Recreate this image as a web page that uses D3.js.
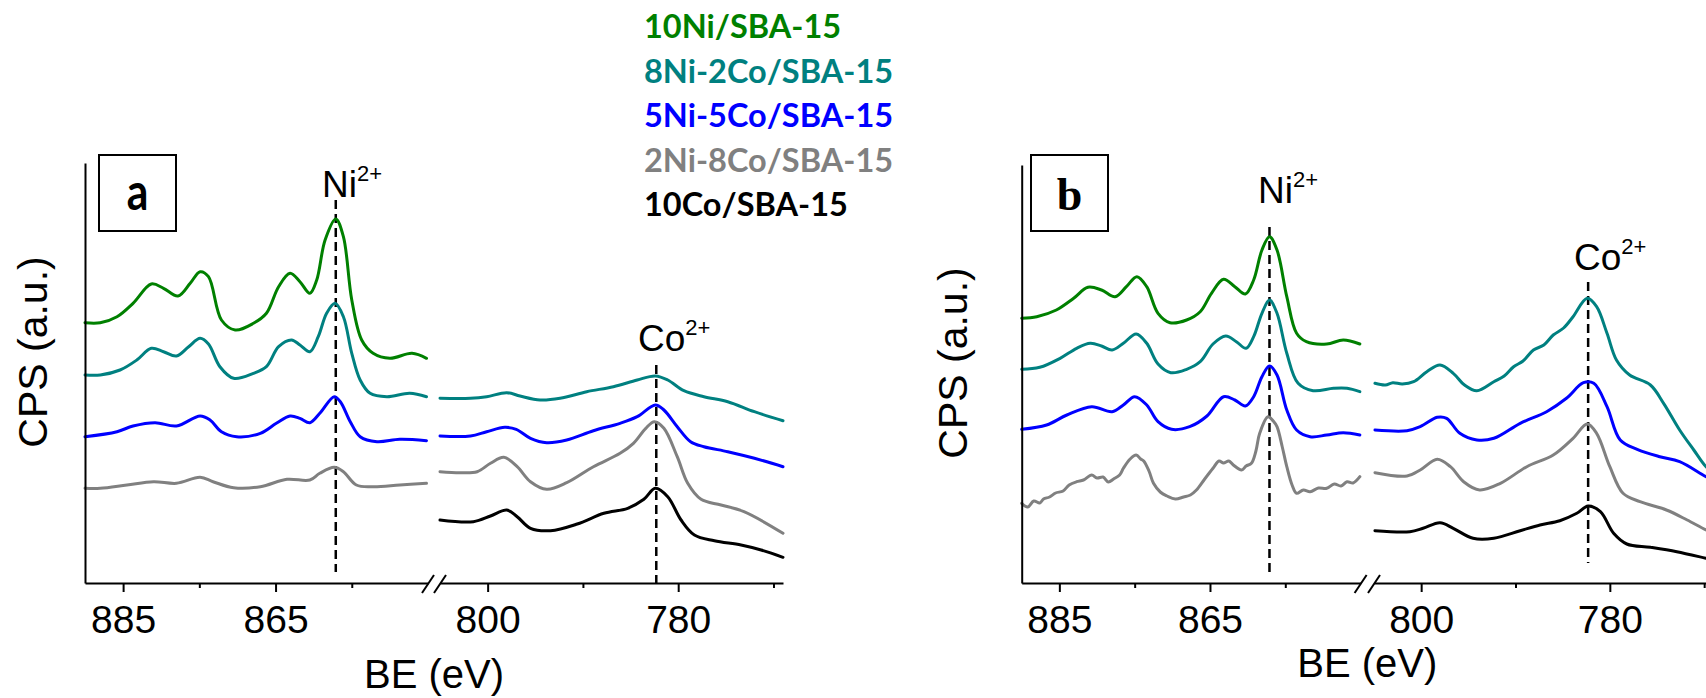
<!DOCTYPE html>
<html><head><meta charset="utf-8">
<script src="https://cdn.jsdelivr.net/npm/d3@7/dist/d3.min.js"></script>
<style>body{margin:0;background:#fff}svg{display:block}</style>
</head><body>
<svg id="chart" width="1706" height="698"></svg>
<script>
// ---------------- DATA ----------------
const seriesNames = ["10Ni/SBA-15", "8Ni-2Co/SBA-15", "5Ni-5Co/SBA-15", "2Ni-8Co/SBA-15", "10Co/SBA-15"];
const panelNames = ["a", "b"];
const niDomain = [890, 845];
const coDomain = [805, 769];
const niMajorTicks = [885, 865];
const niMinorTicks = [875, 855];
const coMajorTicks = [800, 780];
const coMinorTicks = [790, 770];
const niPeakBE = 857.1;
const coPeakBE = 782.3;
const peakNames = ["Ni", "Co"];
const peakCharge = "2+";
const yLabel = "CPS (a.u.)";
const xLabel = "BE (eV)";

// Panel a, Ni 2p region  [BE, intensity a.u.]
const aNi_10Ni = [[890,260.3],[888,260.3],[885.8,266.3],[883.7,279.7],[881.3,299],[879.7,294.7],[877.8,287],[876.2,299.7],[874.9,311.3],[873.8,306.3],[872.1,263],[870.3,253],[867.9,259.7],[866.2,269.7],[864.6,296.3],[863.1,309.7],[861.8,301.3],[860.5,289.7],[859.6,303],[858.5,343],[857.1,364],[856.1,346.3],[855,283],[853.7,243],[852.2,229.7],[850,224.7],[847.1,229.7],[845.2,224.7]];
const aNi_8Ni2Co = [[890,208],[888,208],[885.4,213],[883.2,223],[881.3,234.7],[879.7,231.3],[878,227],[876.4,236.3],[874.9,244.7],[873.8,239],[872.3,216.3],[870.5,204.7],[867.9,209.7],[866.2,216.3],[864.6,236.3],[862.9,243],[861.8,238],[860.5,231.3],[859.4,246.3],[858.3,269.7],[857.2,279.7],[856.1,266.3],[855,229.7],[853.9,203],[852.6,189.7],[850.4,186.3],[847.4,189.7],[845.2,186.3]];
const aNi_5Ni5Co = [[890,146.3],[885.8,151.3],[883.7,157],[880.8,160.3],[878,157],[874.9,167],[873.6,163],[872.1,151.3],[870.1,146.3],[867,149.7],[864.9,159.7],[863.1,167],[861.8,164.7],[860.5,160.3],[859.2,169.7],[857.3,186.3],[856.5,181.3],[855.2,161.3],[853.9,146.3],[851.7,141.3],[848.7,143.7],[845.2,142.3]];
const aNi_2Ni8Co = [[890,94.7],[888,94.7],[884.5,98],[881,101.3],[878,99.7],[874.9,105.7],[873.2,101.3],[870.5,95.3],[867,96.3],[863.5,103.7],[860.5,103],[859.2,109.7],[857.3,115.7],[856.1,111.3],[854.4,98],[852.2,96.3],[848.7,98],[845.2,99.7]];

// Panel a, Co 2p region
const aCo_8Ni2Co = [[805,184.7],[801.8,184.7],[800.1,186.3],[798,190.3],[796.6,187],[794.5,183],[792.4,184.7],[789.6,191.3],[786.8,196.3],[784.3,203],[782.4,207],[781.1,203],[779.4,192.3],[777.3,186.3],[774.8,181.3],[772,171.3],[769,162.3]];
const aCo_5Ni5Co = [[805,147],[801.8,147],[800.1,151.3],[798.2,155.7],[797,153.7],[795.5,144.7],[793.8,140.3],[791.7,143],[788.9,152.3],[786.1,159.7],[784.3,166.3],[782.4,178],[781.5,173],[780.1,156.3],[778.7,141.3],[777.3,136.3],[774.8,131.3],[772,124.7],[769,116.3]];
const aCo_2Ni8Co = [[805,111.3],[802.9,110.3],[801.1,111.3],[799.7,119.7],[798.3,125.7],[796.9,116.3],[795.5,101.3],[793.8,93.7],[791.7,100.3],[788.9,116.3],[786.1,129.7],[784.7,139.7],[783.4,154.7],[782.5,161.3],[781.5,154.7],[780.1,126.3],[779,99.7],[777.6,83.7],[775.5,78],[773.1,71.3],[769,49.7]];
const aCo_10Co = [[805,63],[801.5,61.3],[799.7,67],[798,73],[796.9,66.3],[795.5,54.7],[793.4,52.3],[790.6,59],[787.8,69.7],[785.3,74.7],[783.6,83.7],[782.4,94.7],[781.1,86.3],[779.7,63],[778.3,48],[776.2,42.3],[773.4,38],[771.3,33],[769,25.7]];

// Panel b, Ni 2p region
const bNi_10Ni = [[890,264.7],[888,266.3],[885.4,273],[883.1,284.7],[881.2,295.7],[879.4,293],[877.6,286.3],[876.1,296.3],[874.7,306.3],[873.4,296.3],[871.9,269.7],[870.3,260.3],[868.1,263],[866.3,271.3],[864.8,289.7],[863.2,303.7],[861.7,296.3],[860.3,289],[859.2,303],[858.1,333],[857.1,346.3],[856.1,333],[854.8,286.3],[853.5,249.7],[852.2,241.3],[849.5,239],[847.3,243],[845.1,239]];
const bNi_8Ni2Co = [[890,213.7],[887.6,215.7],[884.9,224.7],[882.7,234.7],[880.9,239.7],[879.4,237],[878,233],[876.5,239.7],[874.8,249],[873.4,239.7],[871.9,219],[870.2,210.3],[868.1,213.7],[866.3,221.3],[864.6,239],[862.9,247],[861.5,241.3],[860.2,234.7],[859.2,246.3],[858.1,269.7],[857.1,283],[856.1,269.7],[854.8,229.7],[853.3,199.7],[851.3,192.3],[848.6,194.7],[846.8,194.7],[845.1,191.3]];
const bNi_5Ni5Co = [[890,153.7],[886.7,158],[884,168],[880.7,176.3],[878,171.3],[876.5,178],[875,186.3],[873.4,178],[871.9,161.3],[870.1,153.7],[867.7,156.3],[865.4,167],[863.2,186.3],[861.7,183],[860.3,177],[859.2,186.3],[858.1,206.3],[857.1,217],[856.1,208],[854.8,173],[853.5,153],[851.7,146.3],[849.5,148],[847.3,150.3],[845.1,148]];
const bNi_2Ni8Co = [[890,79.7],[889.2,76],[888.4,82],[887.6,80],[887.1,84],[886.3,86],[885.5,90],[884.5,92],[883.7,98],[882.7,101.3],[881.8,103],[880.7,108],[880,105],[879.2,106],[878.5,101],[877.8,104],[877,108],[876.5,114.7],[875.6,124],[874.8,128],[874.2,124],[873.8,122],[873.1,112],[872.5,99.7],[871.6,91],[870.7,87],[869.6,84],[868.5,86],[867.6,88],[866.8,93],[865.7,104],[864.6,114.7],[863.8,122],[863.2,120],[862.5,122],[861.9,118],[860.8,113],[860.2,117],[859.5,119.7],[858.9,132],[858.4,149.7],[857.3,166.3],[856.6,162],[856.1,156.3],[855.4,136],[854.8,116.3],[854.1,98],[853.5,89.7],[852.6,93],[851.7,91.3],[850.6,95],[849.5,94.7],[848.5,99],[847.6,97],[846.8,101.3],[846,100],[845.1,106.3]];

// Panel b, Co 2p region
const bCo_8Ni2Co = [[804.9,199.7],[803.8,198],[803,200.3],[802,199],[800.8,201.3],[799.4,211.3],[798,218],[796.6,209.7],[795.4,198],[794.1,192.3],[792.3,201.3],[791.2,207],[790.2,216.3],[789.2,222],[788.1,233],[787,238],[786,248],[784.9,255],[783.9,266.3],[782.4,284.7],[781.4,276.3],[780.3,249.7],[779.3,223],[777.9,208],[775.7,198],[774.3,179.7],[772.6,153],[771.1,133],[769.8,116.3],[769,111]];
const bCo_5Ni5Co = [[804.9,153],[801.5,152.3],[800.1,156.3],[798.3,165.7],[797.3,164.7],[795.9,149.7],[794.1,143],[792.3,144.7],[789.5,159.7],[786.7,171.3],[784.6,184.7],[782.8,200.3],[781.7,199.7],[780.3,176.3],[778.9,143],[777.1,133.7],[774.7,126.3],[772.6,121.3],[769.8,106.3],[769,103]];
const bCo_2Ni8Co = [[804.9,110.3],[801.5,107],[800.1,113],[798.3,123.7],[796.9,116.3],[795.5,101.3],[793.8,93],[791.6,99.7],[788.8,116.3],[786,128],[783.9,144.7],[782.4,159],[781.4,149.7],[780,116.3],[778.6,89.7],[776.8,81.3],[774,73],[771.8,63],[769.8,53],[769,50]];
const bCo_10Co = [[804.9,52.3],[801.2,51.3],[799.8,54.7],[798,60.3],[796.6,54.7],[794.5,44.7],[792.3,44.7],[789.5,52.3],[787.4,58],[785.3,62.3],[783.5,69.7],[782.3,77],[781,71.3],[779.6,49.7],[778.2,39],[775.7,35.7],[772.9,31.3],[769.8,24.7],[769,23]];

// ---------------- STYLE / LAYOUT ----------------
const colors = ["#008000", "#008080", "#0000ff", "#808080", "#000000"];
const panels = [
  { name: panelNames[0], x0: 85, xBL: 428, xBR: 440, x1: 783, yTop: 420,
    ni: [aNi_10Ni, aNi_8Ni2Co, aNi_5Ni5Co, aNi_2Ni8Co, null],
    co: [null, aCo_8Ni2Co, aCo_5Ni5Co, aCo_2Ni8Co, aCo_10Co],
    box: [99, 155, 77, 76], boxFont: "bold 52px Lato, 'Open Sans', sans-serif", boxScaleX: 0.82,
    niLab: [322, 197], coLab: [638, 350.5], niDash: [200, 572], coDash: [365, 583],
    yLab: [47, 352], xLab: 688 },
  { name: panelNames[1], x0: 1021.7, xBL: 1360.6, xBR: 1374, x1: 1713.6, yTop: 418,
    ni: [bNi_10Ni, bNi_8Ni2Co, bNi_5Ni5Co, bNi_2Ni8Co, null],
    co: [null, bCo_8Ni2Co, bCo_5Ni5Co, bCo_2Ni8Co, bCo_10Co],
    box: [1031, 155, 77, 76], boxFont: "bold 46px 'Liberation Serif', 'Times New Roman', serif", boxScaleX: 1,
    niLab: [1258, 203], coLab: [1574, 270], niDash: [227, 572], coDash: [282, 563],
    yLab: [967, 363], xLab: 677 }
];

const svg = d3.select("#chart");
const axisY = 583;
const y = d3.scaleLinear().domain([0, 420]).range([axisY, 163]);
const sansFont = "'Liberation Sans', Arial, sans-serif";

panels.forEach(p => {
  const g = svg.append("g");
  const xNi = d3.scaleLinear().domain(niDomain).range([p.x0, p.xBL]);
  const xCo = d3.scaleLinear().domain(coDomain).range([p.xBR, p.x1]);

  // dashed peak markers (behind curves)
  g.append("line").attr("x1", xNi(niPeakBE)).attr("x2", xNi(niPeakBE))
    .attr("y1", p.niDash[0]).attr("y2", p.niDash[1])
    .attr("stroke", "#000").attr("stroke-width", 2.5).attr("stroke-dasharray", "9,5");
  g.append("line").attr("x1", xCo(coPeakBE)).attr("x2", xCo(coPeakBE))
    .attr("y1", p.coDash[0]).attr("y2", p.coDash[1])
    .attr("stroke", "#000").attr("stroke-width", 2.5).attr("stroke-dasharray", "9,5");

  // curves
  [[p.ni, xNi], [p.co, xCo]].forEach(([list, xs]) => {
    list.forEach((d, i) => {
      if (!d) return;
      const line = d3.line().x(v => xs(v[0])).y(v => y(v[1])).curve(d3.curveCatmullRom.alpha(0.5));
      g.append("path").datum(d).attr("d", line)
        .attr("fill", "none").attr("stroke", colors[i]).attr("stroke-width", 3)
        .attr("stroke-linejoin", "round").attr("stroke-linecap", "round");
    });
  });

  // x axes (major + minor)
  const mk = (scale, major, minor) => {
    const ga = g.append("g").attr("transform", `translate(0,${axisY})`)
      .call(d3.axisBottom(scale).tickValues(major).tickSize(9).tickSizeOuter(0).tickFormat(d3.format("d")));
    ga.select(".domain").attr("stroke-width", 2);
    ga.selectAll(".tick line").attr("stroke-width", 2);
    ga.selectAll(".tick text").attr("y", 50).attr("dy", 0)
      .style("font", `39px ${sansFont}`).attr("fill", "#000");
    const gm = g.append("g").attr("transform", `translate(0,${axisY})`)
      .call(d3.axisBottom(scale).tickValues(minor).tickSize(5).tickSizeOuter(0).tickFormat(""));
    gm.select(".domain").remove();
    gm.selectAll(".tick line").attr("stroke-width", 2);
  };
  mk(xNi, niMajorTicks, niMinorTicks);
  mk(xCo, coMajorTicks, coMinorTicks);

  // axis break marks
  [p.xBL, p.xBR].forEach(cx => {
    g.append("line").attr("x1", cx - 6).attr("y1", axisY + 10).attr("x2", cx + 6).attr("y2", axisY - 8)
      .attr("stroke", "#000").attr("stroke-width", 2);
  });

  // y axis (no ticks)
  const gy = g.append("g").attr("transform", `translate(${p.x0},0)`)
    .call(d3.axisLeft(d3.scaleLinear().domain([0, p.yTop]).range([axisY, y(p.yTop)])).tickValues([]).tickSizeOuter(0));
  gy.select(".domain").attr("stroke-width", 2);

  // labels
  g.append("text").attr("transform", `translate(${p.yLab[0]},${p.yLab[1]}) rotate(-90)`)
    .attr("text-anchor", "middle").style("font", `41px ${sansFont}`).text(yLabel);
  g.append("text").attr("x", (p.xBL + p.xBR) / 2)
    .attr("y", p.xLab).attr("text-anchor", "middle").style("font", `40px ${sansFont}`).text(xLabel);

  // panel letter box
  g.append("rect").attr("x", p.box[0]).attr("y", p.box[1]).attr("width", p.box[2]).attr("height", p.box[3])
    .attr("fill", "none").attr("stroke", "#000").attr("stroke-width", 2);
  g.append("text").attr("transform", `translate(${p.box[0] + p.box[2] / 2},210) scale(${p.boxScaleX},1)`)
    .attr("text-anchor", "middle").style("font", p.boxFont).text(p.name);

  // peak labels with superscripts
  [[p.niLab, peakNames[0]], [p.coLab, peakNames[1]]].forEach(([pos, nm]) => {
    const t = g.append("text").attr("x", pos[0]).attr("y", pos[1]).style("font", `37px ${sansFont}`);
    t.append("tspan").text(nm);
    t.append("tspan").attr("dy", -16).style("font-size", "22px").text(peakCharge);
  });
});

// legend
const legend = svg.append("g");
seriesNames.forEach((n, i) => {
  legend.append("text").attr("x", 644).attr("y", 38 + i * 44.5)
    .style("font", "bold 32.5px Lato, 'Open Sans', sans-serif").attr("fill", colors[i]).text(n);
});
</script>
</body></html>
